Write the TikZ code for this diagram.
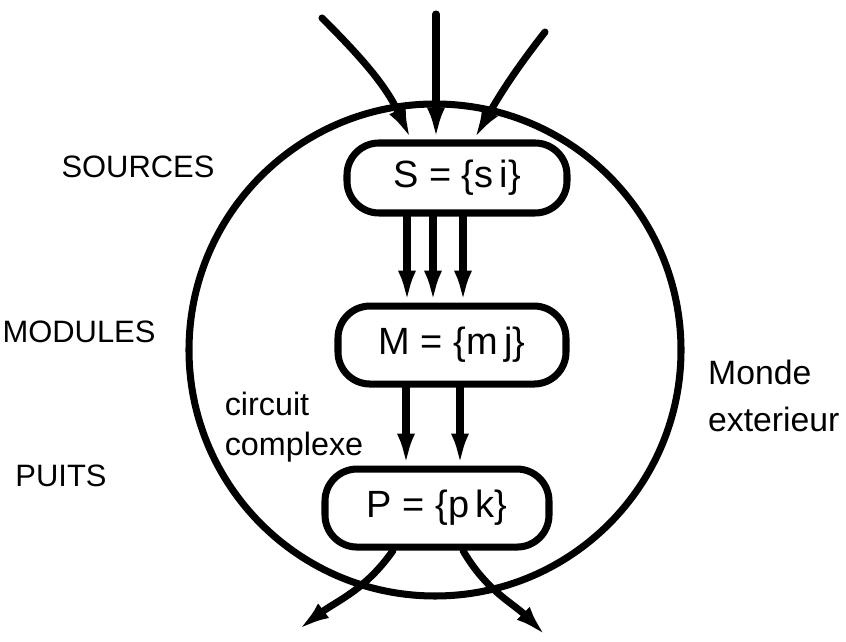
\documentclass[tikz,border=0pt]{standalone}
\usepackage{fontspec}
\setmainfont{Liberation Sans}
\usetikzlibrary{arrows.meta,positioning,calc}

\begin{document}
\begin{tikzpicture}[
    line width=5pt,
    setbox/.style={draw, rectangle, rounded corners=0.8cm, minimum width=5.6cm, minimum height=1.95cm, align=center, font=\fontsize{27}{30}\selectfont},
    tag/.style={font=\fontsize{22}{28}\selectfont, align=left},
    flow/.style={-{Latex[length=8mm,width=4.5mm]}, line cap=round}
]
    \useasboundingbox (0,0) rectangle (21.15,16.05);

    \node[circle, draw, minimum size=12.3cm, inner sep=0pt] (world) at (10.875,7.3) {};

    \node[setbox, minimum width=5.5cm, minimum height=1.75cm] (S) at (11.425,11.6) {S = \{s\,i\}};
    \node[setbox, minimum width=5.7cm, below=2.15cm of S, xshift=-0.125cm] (M) {M = \{m\,j\}};
    \node[setbox, below=1.95cm of M, xshift=-0.375cm] (P) {P = \{p\,k\}};

    \node[tag] (sources) at (3.45,11.875) {SOURCES};
    \node[tag] (modules) at (1.975,7.75) {MODULES};
    \node[tag] (puits) at (1.525,4.15) {PUITS};
    \node[tag, font=\fontsize{23}{28}\selectfont] (circuit) at (7.35,5.375) {circuit\\complexe};
    \node[tag, anchor=west, font=\fontsize{24}{34}\selectfont] (monde) at (17.5,6.15) {Monde\\exterieur};

    \coordinate (inL) at (8.05,15.6);
    \coordinate (inC) at (10.9,15.7);
    \coordinate (inR) at (13.625,15.25);
    \coordinate (outL) at (7.45,0.3);
    \coordinate (outR) at (13.65,0.15);

    \draw[flow] (inL) to[out=-45, in=115] ([xshift=-1.15cm]S.north);
    \draw[flow] (inC) -- (inC |- S.north);
    \draw[flow] (inR) to[out=-128, in=60] ([xshift=0.425cm]S.north);

    \foreach \dx in {-1.25,-0.6,0.15}
        \draw[flow] ([xshift=\dx cm]S.south) -- ([xshift=\dx cm]S.south |- M.north);
    \foreach \dx in {-1.15,0.2}
        \draw[flow] ([xshift=\dx cm]M.south) -- ([xshift=\dx cm]M.south |- P.north);

    \draw[flow] ([xshift=-1.1cm]P.south) to[out=-125, in=37] (outL);
    \draw[flow] ([xshift=0.65cm]P.south) to[out=-60, in=135] (outR);
\end{tikzpicture}
\end{document}
